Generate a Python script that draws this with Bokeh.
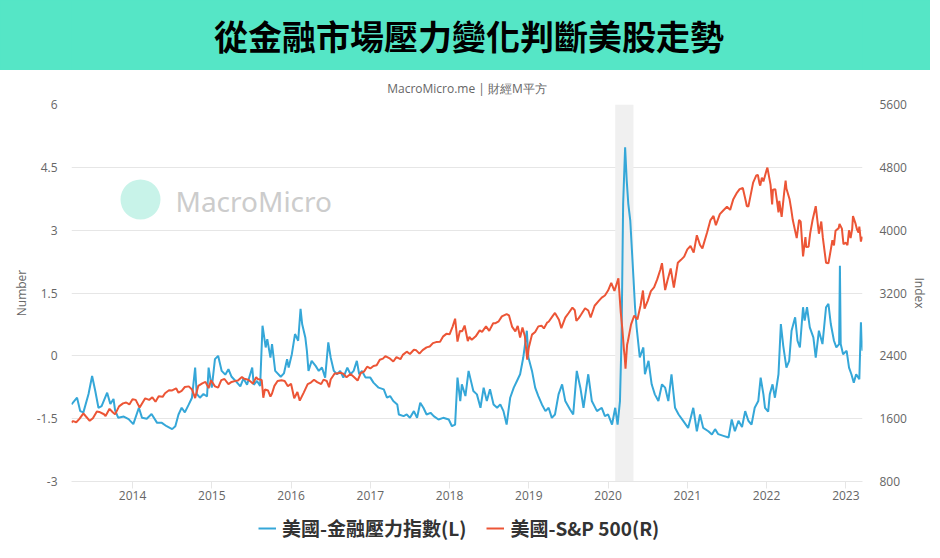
from bokeh.plotting import figure
from bokeh.models import (Range1d, LinearAxis, FixedTicker, BoxAnnotation, Label,
                          Legend, LegendItem)
from bokeh.layouts import column
from bokeh.embed import file_html
from bokeh.resources import INLINE

# ---------------- data ----------------
TITLE = "從金融市場壓力變化判斷美股走勢"
SUBTITLE = "MacroMicro.me | 財經M平方"
WATERMARK = "MacroMicro"
SERIES_NAMES = ["美國-金融壓力指數(L)", "美國-S&P 500(R)"]
LEFT_TITLE = "Number"
RIGHT_TITLE = "Index"
X_TICKS = [2014, 2015, 2016, 2017, 2018, 2019, 2020, 2021, 2022, 2023]
X_TICK_LABELS = ["2014", "2015", "2016", "2017", "2018", "2019", "2020", "2021", "2022", "2023"]
LEFT_TICKS = [-3, -1.5, 0, 1.5, 3, 4.5, 6]
LEFT_TICK_LABELS = ["-3", "-1.5", "0", "1.5", "3", "4.5", "6"]
RIGHT_TICKS = [800, 1600, 2400, 3200, 4000, 4800, 5600]
RIGHT_TICK_LABELS = ["800", "1600", "2400", "3200", "4000", "4800", "5600"]
RECESSION = [2020.09, 2020.32]

FSI_DATES = [
    2013.23, 2013.30, 2013.34, 2013.38, 2013.445, 2013.49, 2013.53, 2013.57, 2013.61, 2013.68,
    2013.72, 2013.76, 2013.78, 2013.82, 2013.89, 2013.95,
    2014.01, 2014.08, 2014.12, 2014.18, 2014.24, 2014.31, 2014.37, 2014.43, 2014.50, 2014.54,
    2014.58, 2014.62, 2014.66, 2014.71, 2014.75, 2014.79, 2014.81, 2014.85, 2014.895, 2014.94,
    2014.96,
    2015.00, 2015.04, 2015.08, 2015.125, 2015.17, 2015.21, 2015.25, 2015.30, 2015.36, 2015.40,
    2015.445, 2015.51, 2015.53, 2015.57, 2015.61, 2015.64, 2015.68, 2015.70, 2015.74, 2015.76,
    2015.80, 2015.87, 2015.91, 2015.95, 2015.97,
    2016.01, 2016.05, 2016.09, 2016.12, 2016.14, 2016.18, 2016.20, 2016.22, 2016.26, 2016.31,
    2016.35, 2016.39, 2016.43, 2016.47, 2016.50, 2016.54, 2016.58, 2016.62, 2016.66, 2016.71,
    2016.75, 2016.79, 2016.83, 2016.86, 2016.895, 2016.94,
    2017.00, 2017.04, 2017.105, 2017.17, 2017.21, 2017.25, 2017.29, 2017.34, 2017.36, 2017.42,
    2017.46, 2017.50, 2017.55, 2017.59, 2017.63, 2017.67, 2017.71, 2017.76, 2017.80, 2017.86,
    2017.92, 2017.99,
    2018.03, 2018.07, 2018.10, 2018.135, 2018.155, 2018.20, 2018.24, 2018.26, 2018.30, 2018.345,
    2018.39, 2018.43, 2018.47, 2018.51, 2018.555, 2018.60, 2018.64, 2018.68, 2018.72, 2018.765,
    2018.81, 2018.85, 2018.89, 2018.93, 2018.975, 2018.995,
    2019.04, 2019.08, 2019.12, 2019.165, 2019.21, 2019.25, 2019.29, 2019.33, 2019.375, 2019.42,
    2019.46, 2019.52, 2019.56, 2019.605, 2019.65, 2019.69, 2019.75, 2019.795, 2019.86, 2019.92,
    2019.96,
    2020.00, 2020.05, 2020.09, 2020.12, 2020.15, 2020.17, 2020.19, 2020.215, 2020.235, 2020.255,
    2020.28, 2020.30, 2020.32, 2020.34, 2020.36, 2020.40, 2020.445, 2020.465, 2020.51, 2020.55,
    2020.59, 2020.635, 2020.68, 2020.72, 2020.76, 2020.80, 2020.845, 2020.89, 2020.95,
    2021.01, 2021.075, 2021.12, 2021.16, 2021.20, 2021.265, 2021.31, 2021.35, 2021.39, 2021.455,
    2021.52, 2021.56, 2021.60, 2021.645, 2021.69, 2021.73, 2021.77, 2021.81, 2021.85, 2021.895,
    2021.925, 2021.96, 2021.98,
    2022.02, 2022.04, 2022.075, 2022.105, 2022.15, 2022.18, 2022.21, 2022.25, 2022.285, 2022.315,
    2022.36, 2022.39, 2022.42, 2022.46, 2022.48, 2022.51, 2022.545, 2022.59, 2022.62, 2022.66,
    2022.705, 2022.75, 2022.78, 2022.81, 2022.85, 2022.88, 2022.915, 2022.925, 2022.935, 2022.965,
    2023.01, 2023.04, 2023.07, 2023.10, 2023.13, 2023.17, 2023.19, 2023.21,
]
FSI_VALUES = [
    -1.16, -1.00, -1.32, -1.35, -0.91, -0.48, -0.84, -1.24, -1.20, -0.88,
    -1.15, -1.03, -1.30, -1.48, -1.45, -1.51,
    -1.63, -1.24, -1.48, -1.50, -1.39, -1.60, -1.60, -1.68, -1.75, -1.68,
    -1.40, -1.24, -1.35, -1.16, -1.00, -0.28, -0.91, -1.00, -0.91, -0.97,
    -0.28,
    -0.76, -0.08, 0.00, -0.36, -0.45, -0.32, -0.50, -0.60, -0.73, -0.54,
    -0.69, -0.28, -0.69, -0.60, -0.72, 0.72, 0.20, 0.40, -0.04, 0.28,
    -0.36, -0.50, -0.42, -0.08, -0.28,
    0.04, 0.52, 0.36, 1.12, 0.76, 0.44, 0.12, -0.36, -0.12, -0.24,
    -0.36, -0.28, -0.52, 0.32, -0.04, -0.36, -0.44, -0.36, -0.52, -0.28,
    -0.44, -0.36, -0.12, -0.44, -0.36, -0.52,
    -0.52, -0.64, -0.76, -0.80, -1.00, -0.96, -1.08, -1.16, -1.40, -1.44,
    -1.40, -1.48, -1.32, -1.48, -1.12, -1.24, -1.40, -1.36, -1.44, -1.52,
    -1.48, -1.52,
    -1.68, -1.64, -0.52, -1.08, -0.68, -0.96, -0.36, -0.52, -0.84, -0.92,
    -1.24, -0.76, -1.08, -0.80, -1.16, -1.24, -1.16, -1.32, -1.64, -1.00,
    -0.76, -0.60, -0.44, -0.04, 0.60, -0.04,
    -0.36, -0.76, -0.96, -1.16, -1.32, -1.24, -1.48, -1.40, -0.92, -0.68,
    -1.08, -1.28, -1.40, -0.36, -0.76, -1.24, -0.44, -1.08, -1.32, -1.24,
    -1.44,
    -1.40, -1.64, -1.24, -1.64, -1.08, 0.44, 3.63, 4.98, 4.19, 3.63,
    3.23, 2.55, 1.87, 1.16, 0.68, -0.04, 0.20, -0.44, -0.12, -0.68,
    -0.92, -1.08, -0.68, -0.76, -1.08, -0.44, -1.24, -1.40, -1.56,
    -1.72, -1.24, -1.80, -1.40, -1.72, -1.80, -1.88, -1.75, -1.87, -1.91,
    -1.95, -1.52, -1.80, -1.55, -1.70, -1.32, -1.55, -1.64, -1.24, -1.08,
    -0.52, -0.92, -1.24,
    -1.33, -0.92, -0.68, -1.00, -0.44, 0.76, 0.24, -0.28, -0.12, 0.60,
    0.92, 0.36, 0.20, 1.16, 0.84, 1.16, 0.68, 0.44, -0.04, 0.60,
    0.28, 1.16, 1.24, 0.76, 0.36, 0.20, 0.28, 2.15, 0.28, 0.04,
    0.12, -0.28, -0.44, -0.64, -0.44, -0.56, 0.80, 0.12,
]

SPX_DATES = [
    2013.23, 2013.25, 2013.29, 2013.33, 2013.38, 2013.41, 2013.46, 2013.50, 2013.55, 2013.58,
    2013.64, 2013.66, 2013.71, 2013.75, 2013.78, 2013.83, 2013.88, 2013.92, 2013.96,
    2014.00, 2014.04, 2014.09, 2014.16, 2014.21, 2014.25, 2014.29, 2014.33, 2014.38, 2014.41,
    2014.46, 2014.50, 2014.55, 2014.58, 2014.62, 2014.66, 2014.71, 2014.75, 2014.79, 2014.83,
    2014.88, 2014.92, 2014.96, 2014.99,
    2015.04, 2015.08, 2015.12, 2015.16, 2015.21, 2015.25, 2015.30, 2015.33, 2015.38, 2015.41,
    2015.46, 2015.50, 2015.52, 2015.56, 2015.58, 2015.63, 2015.65, 2015.67, 2015.71, 2015.74,
    2015.76, 2015.79, 2015.83, 2015.88, 2015.92, 2015.96,
    2016.00, 2016.04, 2016.08, 2016.11, 2016.16, 2016.21, 2016.25, 2016.29, 2016.33, 2016.38,
    2016.41, 2016.45, 2016.48, 2016.50, 2016.55, 2016.58, 2016.62, 2016.66, 2016.70, 2016.75,
    2016.79, 2016.84, 2016.88, 2016.92, 2016.96,
    2017.00, 2017.04, 2017.08, 2017.12, 2017.16, 2017.19, 2017.25, 2017.29, 2017.33, 2017.38,
    2017.41, 2017.46, 2017.50, 2017.55, 2017.58, 2017.62, 2017.66, 2017.71, 2017.75, 2017.79,
    2017.83, 2017.88, 2017.92, 2017.96,
    2018.00, 2018.04, 2018.07, 2018.10, 2018.13, 2018.16, 2018.19, 2018.23, 2018.25, 2018.28,
    2018.33, 2018.38, 2018.41, 2018.46, 2018.50, 2018.55, 2018.58, 2018.62, 2018.66, 2018.72,
    2018.75, 2018.79, 2018.83, 2018.86, 2018.89, 2018.92, 2018.95, 2018.98,
    2019.00, 2019.04, 2019.08, 2019.12, 2019.16, 2019.19, 2019.23, 2019.25, 2019.30, 2019.33,
    2019.38, 2019.41, 2019.46, 2019.50, 2019.55, 2019.58, 2019.60, 2019.63, 2019.66, 2019.71,
    2019.75, 2019.78, 2019.83, 2019.88, 2019.92, 2019.96,
    2020.00, 2020.04, 2020.08, 2020.13, 2020.16, 2020.18, 2020.20, 2020.21, 2020.22, 2020.24,
    2020.25, 2020.29, 2020.33, 2020.37, 2020.41, 2020.44, 2020.46, 2020.50, 2020.54, 2020.58,
    2020.62, 2020.66, 2020.68, 2020.72, 2020.75, 2020.79, 2020.83, 2020.88, 2020.92, 2020.96,
    2021.00, 2021.04, 2021.08, 2021.12, 2021.16, 2021.19, 2021.25, 2021.29, 2021.33, 2021.36,
    2021.41, 2021.45, 2021.50, 2021.54, 2021.58, 2021.62, 2021.66, 2021.70, 2021.74, 2021.75,
    2021.77, 2021.83, 2021.87, 2021.89, 2021.91, 2021.92, 2021.94, 2021.96,
    2022.00, 2022.01, 2022.05, 2022.07, 2022.08, 2022.11, 2022.13, 2022.15, 2022.16, 2022.19,
    2022.22, 2022.24, 2022.25, 2022.29, 2022.31, 2022.33, 2022.36, 2022.38, 2022.41, 2022.43,
    2022.46, 2022.49, 2022.50, 2022.53, 2022.55, 2022.58, 2022.62, 2022.66, 2022.69, 2022.71,
    2022.75, 2022.78, 2022.81, 2022.83, 2022.85, 2022.87, 2022.91, 2022.92, 2022.95, 2022.97,
    2023.00, 2023.02, 2023.04, 2023.06, 2023.08, 2023.09, 2023.12, 2023.14, 2023.16, 2023.17,
    2023.19, 2023.21,
]
SPX_VALUES = [
    1552, 1569, 1555, 1597, 1667, 1631, 1573, 1606, 1690, 1686,
    1656, 1633, 1725, 1682, 1655, 1757, 1795, 1806, 1781,
    1848, 1839, 1741, 1859, 1839, 1872, 1815, 1884, 1878, 1924,
    1962, 1960, 1987, 1931, 1955, 2003, 2011, 1972, 1862, 2018,
    2050, 2068, 1989, 2090,
    2011, 1995, 2090, 2105, 2040, 2068, 2081, 2086, 2130, 2107,
    2096, 2063, 2046, 2128, 2104, 2092, 1867, 1972, 1958, 1881,
    1920, 2017, 2079, 2089, 2080, 2012,
    2044, 1859, 1940, 1829, 1932, 2040, 2060, 2095, 2065, 2040,
    2097, 2080, 2000, 2099, 2175, 2174, 2185, 2171, 2127, 2168,
    2133, 2085, 2182, 2199, 2262,
    2239, 2271, 2279, 2350, 2364, 2396, 2363, 2328, 2384, 2357,
    2412, 2453, 2423, 2477, 2470, 2428, 2472, 2508, 2519, 2562,
    2575, 2579, 2648, 2680,
    2674, 2776, 2873, 2581, 2716, 2714, 2786, 2588, 2641, 2604,
    2648, 2724, 2705, 2774, 2718, 2815, 2816, 2840, 2902, 2931,
    2914, 2768, 2711, 2781, 2633, 2760, 2650, 2351,
    2507, 2670, 2704, 2775, 2784, 2749, 2822, 2834, 2905, 2946,
    2859, 2752, 2886, 2942, 3014, 2980, 2847, 2880, 2926, 3006,
    2977, 2888, 3038, 3096, 3141, 3168,
    3231, 3329, 3226, 3386, 2954, 2741, 2480, 2386, 2237, 2541,
    2585, 2800, 2912, 2863, 3044, 3232, 3002, 3100, 3224, 3271,
    3373, 3500, 3580, 3237, 3363, 3512, 3270, 3585, 3622, 3663,
    3756, 3798, 3714, 3935, 3811, 3768, 3973, 4124, 4181, 4063,
    4204, 4247, 4298, 4258, 4395, 4468, 4523, 4536, 4358, 4308,
    4300, 4605, 4697, 4704, 4595, 4567, 4668, 4620,
    4766, 4797, 4577, 4327, 4516, 4522, 4380, 4225, 4374, 4170,
    4463, 4631, 4530, 4393, 4271, 4132, 3991, 3900, 4132, 4109,
    3667, 3911, 3785, 3790, 3959, 4130, 4305, 3955, 4110, 3901,
    3586, 3577, 3752, 3872, 3806, 3993, 4026, 4080, 4019, 3822,
    3840, 3808, 3999, 3898, 4017, 4179, 4090, 4012, 3970, 4046,
    3855, 3917,
]

# ---------------- style ----------------
GREEN = "#55e6c6"
BLUE = "#35a7d8"
RED = "#ec5536"
GRID = "#e6e6e6"
TXT = "#666666"

W = 930          # total width (930 + 8px page margin fits the 940px window)
HDR_H = 70       # green title band
MAIN_H = 442
LEG_H = 30

# ---------------- header band ----------------
hdr = figure(width=W, height=HDR_H, output_backend="svg", toolbar_location=None,
             x_range=Range1d(0, 1), y_range=Range1d(0, 1),
             x_axis_type=None, y_axis_type=None, min_border=0,
             background_fill_color=GREEN, border_fill_color=GREEN)
hdr.styles = {"background-color": GREEN}
hdr.outline_line_color = None
hdr.add_layout(Label(x=0.5025, y=0.50, text=TITLE, text_font="Noto Sans CJK TC",
                     text_font_size="34px", text_font_style="bold", text_color="#000000",
                     text_align="center", text_baseline="middle"))

# ---------------- main chart ----------------
x_start = min(min(FSI_DATES), min(SPX_DATES))
x_end = max(max(FSI_DATES), max(SPX_DATES))

p = figure(width=W, height=MAIN_H, output_backend="svg", toolbar_location=None,
           x_range=Range1d(x_start, x_end),
           y_range=Range1d(LEFT_TICKS[0], LEFT_TICKS[-1]),
           min_border_left=71, min_border_right=67, min_border_top=34, min_border_bottom=31,
           background_fill_color="white", border_fill_color="white")
p.outline_line_color = None
p.extra_y_ranges = {"idx": Range1d(RIGHT_TICKS[0], RIGHT_TICKS[-1])}

p.title.text = SUBTITLE
p.title.align = "center"
p.title.text_font = "Open Sans"
p.title.text_font_size = "12px"
p.title.text_font_style = "normal"
p.title.text_color = TXT
p.title.standoff = 15

# watermark (screen units, relative to frame)
p.add_layout(BoxAnnotation(left=49, right=89, bottom=262, top=302,
                           left_units="screen", right_units="screen",
                           top_units="screen", bottom_units="screen",
                           border_radius=20, fill_color="#c8f3e9", fill_alpha=1,
                           line_color=None, level="underlay"))
p.add_layout(Label(x=104, y=281, x_units="screen", y_units="screen", text=WATERMARK,
                   text_font="Noto Sans", text_font_size="28px", text_color="#cccccc",
                   text_align="left", text_baseline="middle", level="underlay"))

# recession band
p.add_layout(BoxAnnotation(left=RECESSION[0], right=RECESSION[1], fill_color="#f0f0f0",
                           fill_alpha=1, line_color=None, level="underlay"))

# grid
p.xgrid.visible = False
p.ygrid.ticker = FixedTicker(ticks=LEFT_TICKS)
p.ygrid.grid_line_color = GRID
p.ygrid.grid_line_width = 1

# axes
xa = p.xaxis[0]
xa.ticker = FixedTicker(ticks=X_TICKS)
xa.major_label_overrides = {t: l for t, l in zip(X_TICKS, X_TICK_LABELS)}
xa.axis_line_color = GRID
xa.major_tick_line_color = GRID
xa.major_tick_out = 7
xa.major_tick_in = 0
xa.minor_tick_line_color = None
xa.minor_tick_out = 0
xa.major_label_standoff = 2
xa.major_label_text_font = "Open Sans"
xa.major_label_text_font_size = "12px"
xa.major_label_text_color = TXT

ya = p.yaxis[0]
ya.ticker = FixedTicker(ticks=LEFT_TICKS)
ya.major_label_overrides = {t: l for t, l in zip(LEFT_TICKS, LEFT_TICK_LABELS)}
ya.axis_line_color = None
ya.major_tick_line_color = None
ya.minor_tick_line_color = None
ya.major_tick_out = 0
ya.major_tick_in = 0
ya.minor_tick_out = 0
ya.major_label_standoff = 14
ya.major_label_text_font = "Open Sans"
ya.major_label_text_font_size = "12px"
ya.major_label_text_color = TXT
ya.axis_label = LEFT_TITLE
ya.axis_label_standoff = 4
ya.axis_label_text_font = "Open Sans"
ya.axis_label_text_font_size = "12px"
ya.axis_label_text_font_style = "normal"
ya.axis_label_text_line_height = 1.0
ya.axis_label_text_color = TXT

ra = LinearAxis(y_range_name="idx", ticker=FixedTicker(ticks=RIGHT_TICKS))
ra.major_label_overrides = {t: l for t, l in zip(RIGHT_TICKS, RIGHT_TICK_LABELS)}
ra.axis_line_color = None
ra.major_tick_line_color = None
ra.minor_tick_line_color = None
ra.major_tick_out = 0
ra.major_tick_in = 0
ra.minor_tick_out = 0
ra.major_label_standoff = 17
ra.major_label_text_font = "Open Sans"
ra.major_label_text_font_size = "12px"
ra.major_label_text_color = TXT
ra.axis_label = RIGHT_TITLE
ra.axis_label_standoff = 1
ra.axis_label_text_font = "Open Sans"
ra.axis_label_text_font_size = "12px"
ra.axis_label_text_font_style = "normal"
ra.axis_label_text_line_height = 1.0
ra.axis_label_text_color = TXT
p.add_layout(ra, "right")

# series
r1 = p.line(FSI_DATES, FSI_VALUES, line_color=BLUE, line_width=2)
r2 = p.line(SPX_DATES, SPX_VALUES, line_color=RED, line_width=2, y_range_name="idx")

# ---------------- legend strip ----------------
lf = figure(width=W, height=LEG_H, output_backend="svg", toolbar_location=None,
            x_range=Range1d(0, 1), y_range=Range1d(0, 1),
            x_axis_type=None, y_axis_type=None, min_border=0,
            background_fill_color="white", border_fill_color="white")
lf.outline_line_color = None
# legend keys: same series, drawn outside this strip's view so only the keys show
k1 = lf.line(FSI_DATES, FSI_VALUES, line_color=BLUE, line_width=2)
k2 = lf.line(SPX_DATES, SPX_VALUES, line_color=RED, line_width=2)
legend = Legend(items=[LegendItem(label=SERIES_NAMES[0], renderers=[k1]),
                       LegendItem(label=SERIES_NAMES[1], renderers=[k2])],
                orientation="horizontal", location=(187, 1))
legend.label_text_font = "Noto Sans CJK TC"
legend.label_text_font_size = "19px"
legend.label_text_font_style = "bold"
legend.label_text_color = "#333333"
legend.glyph_width = 18
legend.glyph_height = 16
legend.label_standoff = 6
legend.spacing = 20
legend.padding = 0
legend.margin = 0
legend.border_line_color = None
legend.background_fill_alpha = 0
lf.add_layout(legend, "center")

layout = column(hdr, p, lf)
open("out.html", "w").write(file_html(layout, INLINE))
